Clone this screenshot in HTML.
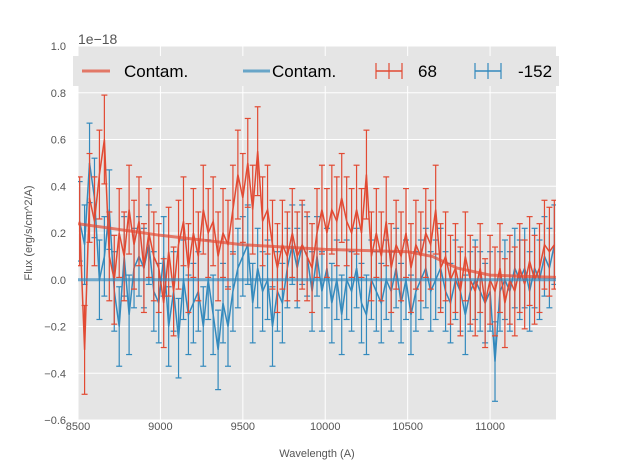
<!DOCTYPE html>
<html><head><meta charset="utf-8"><style>
body{margin:0;background:#fff}
svg{display:block;font-family:"Liberation Sans",sans-serif}
</style></head><body>
<svg id="c" width="617" height="467"></svg>
<script>
const xTicks=[8500,9000,9500,10000,10500,11000];
const yTicks=[1.0,0.8,0.6,0.4,0.2,0.0,-0.2,-0.4,-0.6];
const xStart=8510, xStep=30;
const red=[0.25,-0.3,0.35,0.25,0.45,0.6,0.1,0.0,0.2,0.1,0.3,0.15,0.25,0.05,0.2,0.1,0.05,-0.1,0.12,-0.05,0.15,0.25,0.05,0.2,0.1,0.3,0.2,0.25,0.1,0.2,0.15,0.3,0.45,0.35,0.5,0.3,0.55,0.25,0.3,0.15,0.05,0.15,0.1,0.2,0.1,0.15,0.1,0.05,0.2,0.3,0.2,0.3,0.25,0.35,0.25,0.2,0.3,0.2,0.45,0.1,0.2,0.1,0.25,0.05,0.15,0.1,0.2,0.05,0.15,0.1,0.2,0.15,0.3,0.05,0.1,0.0,0.05,-0.05,0.1,0.0,-0.05,0.05,-0.1,0.0,-0.05,0.05,-0.1,0.0,-0.05,0.05,-0.02,0.08,0.0,0.05,0.15,0.12,0.15];
const blue=[0.25,0.15,0.5,0.35,0.0,0.1,0.3,-0.05,-0.2,0.1,-0.15,0.05,0.1,0.05,0.15,-0.05,-0.1,0.1,-0.2,-0.05,-0.25,0.0,-0.15,-0.1,-0.05,-0.2,0.0,-0.15,-0.3,-0.1,-0.2,-0.05,0.05,0.1,0.15,-0.1,0.05,-0.05,0.0,-0.2,-0.05,-0.1,0.05,0.15,0.05,0.15,0.1,-0.05,0.1,-0.05,0.05,-0.1,0.0,-0.15,0.0,-0.05,0.05,-0.1,-0.15,0.0,-0.05,-0.1,0.0,-0.05,0.05,-0.1,0.0,-0.15,-0.05,0.0,0.05,-0.05,0.0,0.05,-0.05,-0.1,0.0,-0.05,-0.15,-0.05,0.0,-0.05,-0.1,-0.05,-0.35,-0.05,0.0,-0.05,0.05,0.0,0.05,-0.05,0.05,0.0,0.1,0.05,0.15];
const redErr=0.19, blueErr=0.17;
const contamX=[8500,8700,9000,9500,10000,10500,10650,10800,11000,11400];
const contamRed=[0.24,0.22,0.19,0.15,0.13,0.12,0.1,0.05,0.02,0.01];
const contamBlue=[0,0,0,0,0,0,0,0,0,0];

const L=78,R=556,T=46,B=420,X0=8500,X1=11400,Y0=-0.6,Y1=1.0;
const sx=v=>L+(v-X0)/(X1-X0)*(R-L);
const sy=v=>B-(v-Y0)/(Y1-Y0)*(B-T);
const svg=document.getElementById('c');
const NS='http://www.w3.org/2000/svg';
function mk(t,a,p){const e=document.createElementNS(NS,t);for(const k in a)e.setAttribute(k,a[k]);(p||svg).appendChild(e);return e;}
const bg=mk('rect',{x:L,y:T,width:R-L,height:B-T,fill:'#E5E5E5'});


xTicks.forEach(v=>{
 const g=mk('line',{x1:sx(v),x2:sx(v),y1:T,y2:B,stroke:'#fff','stroke-width':1});
 
 
 const t=mk('text',{x:sx(v),y:B+10,'text-anchor':'middle','font-size':11,fill:'#555'});
 t.textContent=v;
 
 
});
yTicks.forEach(v=>{
 const g=mk('line',{x1:L,x2:R,y1:sy(v),y2:sy(v),stroke:'#fff','stroke-width':1});
 
 
 const t=mk('text',{x:L-12,y:sy(v)+4,'text-anchor':'end','font-size':11,fill:'#555'});
 t.textContent=v.toFixed(1).replace('-','\u2212');
 
 
});
const defs=mk('defs',{});
const cp=mk('clipPath',{id:'cp'},defs);
mk('rect',{x:L,y:T,width:R-L,height:B-T},cp);
const plot=mk('g',{'clip-path':'url(#cp)'});
function series(vals,err,col,name){
 const g=mk('g',{},plot);
 
 
 let d='';
 vals.forEach((v,i)=>{
  const x=sx(xStart+i*xStep);
  d+=(i?'L':'M')+x.toFixed(1)+' '+sy(v).toFixed(1);
  mk('line',{x1:x,x2:x,y1:sy(v-err),y2:sy(v+err),stroke:col,'stroke-width':1.2},g);
  mk('line',{x1:x-3,x2:x+3,y1:sy(v-err),y2:sy(v-err),stroke:col,'stroke-width':1.2},g);
  mk('line',{x1:x-3,x2:x+3,y1:sy(v+err),y2:sy(v+err),stroke:col,'stroke-width':1.2},g);
 });
 mk('path',{d:d,fill:'none',stroke:col,'stroke-width':1.5},g);
}
function contam(vals,col,name){
 const d=vals.map((v,i)=>(i?'L':'M')+sx(contamX[i]).toFixed(1)+' '+sy(v).toFixed(1)).join('');
 const p=mk('path',{d:d,fill:'none',stroke:col,'stroke-width':3,opacity:0.7},plot);
 
 
}
series(blue,blueErr,'#348ABD','series-minus152');
series(red,redErr,'#E24A33','series-68');
contam(contamRed,'#E24A33','contam-red-line');
contam(contamBlue,'#348ABD','contam-blue-line');
const lg=mk('g',{});


mk('rect',{x:73,y:56,width:486,height:30,fill:'#E5E5E5'},lg);
function legText(x,s){const t=mk('text',{x:x,y:77,'font-size':17,fill:'#000'},lg);t.textContent=s;}
mk('line',{x1:82,x2:110,y1:71,y2:71,stroke:'#E24A33','stroke-width':3,opacity:0.7},lg);legText(124,'Contam.');
mk('line',{x1:243,x2:270,y1:71,y2:71,stroke:'#348ABD','stroke-width':3,opacity:0.7},lg);legText(272,'Contam.');
function legErr(x,col){mk('line',{x1:x,x2:x+26,y1:71,y2:71,stroke:col,'stroke-width':1.5},lg);
 [x,x+26].forEach(xx=>mk('line',{x1:xx,x2:xx,y1:63,y2:79,stroke:col,'stroke-width':1.2},lg));
 mk('line',{x1:x+13,x2:x+13,y1:63,y2:79,stroke:col,'stroke-width':1.2},lg);}
legErr(376,'#E24A33');legText(418,'68');
legErr(475,'#348ABD');legText(518,'-152');
const ex=mk('text',{x:78,y:44,'font-size':14,fill:'#555'});ex.textContent='1e\u221218';


const xl=mk('text',{x:317,y:457,'text-anchor':'middle','font-size':11,fill:'#555'});xl.textContent='Wavelength (A)';


const yl=mk('text',{x:32,y:233,'text-anchor':'middle','font-size':11,fill:'#555',transform:'rotate(-90 32 233)'});yl.textContent='Flux (erg/s/cm^2/A)';


</script>
</body></html>
